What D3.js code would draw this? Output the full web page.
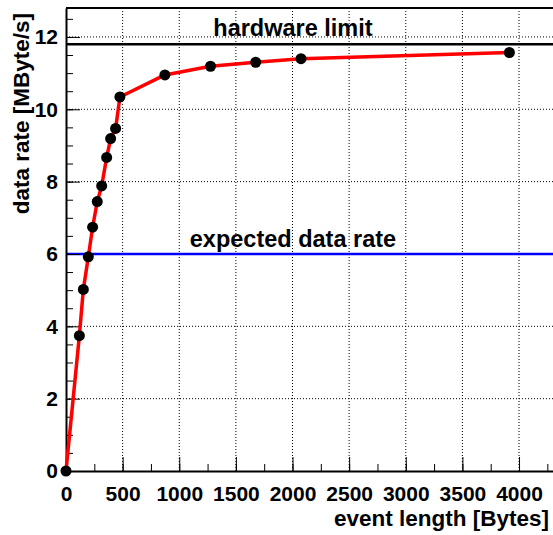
<!DOCTYPE html>
<html>
<head>
<meta charset="utf-8">
<script src="https://cdn.jsdelivr.net/npm/d3@7"></script>
<style>
  body { margin: 0; background: #fff; }
  svg { display: block; }
  text { font-family: "Liberation Sans", Arial, sans-serif; font-weight: bold; fill: #000; }
  .axis path, .axis line { stroke: #000; }
  .axis text { font-size: 21px; }
</style>
</head>
<body>
<svg width="553" height="535"></svg>
<script>
// event length [Bytes] vs data rate [MByte/s]
var eventLength = [0, 118, 153, 197, 235, 276, 315, 359, 394, 438, 476, 873, 1276, 1675, 2075, 3915];
var dataRate = [0, 3.74, 5.02, 5.92, 6.74, 7.45, 7.88, 8.67, 9.19, 9.47, 10.34, 10.95, 11.19, 11.30, 11.40, 11.57];

var xTicks = [0, 500, 1000, 1500, 2000, 2500, 3000, 3500, 4000];
var yTicks = [0, 2, 4, 6, 8, 10, 12];

var hardwareLimit = 11.8;
var expectedRate = 6;

var svg = d3.select("svg"),
  margin = { top: 8, right: 0, bottom: 64, left: 66 },
  width = +svg.attr("width") - margin.left - margin.right,
  height = +svg.attr("height") - margin.top - margin.bottom;

var x = d3.scaleLinear().domain([0, 4300]).range([0, width]),
    y = d3.scaleLinear().domain([0, 12.8]).range([height, 0]);

var g = svg.append("g")
  .attr("transform", "translate(" + margin.left + "," + margin.top + ")");

// GRID
g.append("g").selectAll("line")
  .data(xTicks.slice(1))
  .enter().append("line")
    .attr("x1", function(d) { return x(d); })
    .attr("x2", function(d) { return x(d); })
    .attr("y1", 0)
    .attr("y2", height)
    .attr("stroke", "#000")
    .attr("stroke-width", 1)
    .attr("stroke-dasharray", "1,2");

g.append("g").selectAll("line")
  .data(yTicks.slice(1))
  .enter().append("line")
    .attr("x1", 0)
    .attr("x2", width)
    .attr("y1", function(d) { return y(d); })
    .attr("y2", function(d) { return y(d); })
    .attr("stroke", "#000")
    .attr("stroke-width", 1)
    .attr("stroke-dasharray", "1,2");

// FRAME TOP
g.append("line")
  .attr("x1", 0).attr("x2", width)
  .attr("y1", 0).attr("y2", 0)
  .attr("stroke", "#000").attr("stroke-width", 2);

// REFERENCE LINES
g.append("line")
  .attr("x1", 0).attr("x2", width)
  .attr("y1", y(hardwareLimit)).attr("y2", y(hardwareLimit))
  .attr("stroke", "#000").attr("stroke-width", 2.5);

g.append("line")
  .attr("x1", 0).attr("x2", width)
  .attr("y1", y(expectedRate)).attr("y2", y(expectedRate))
  .attr("stroke", "#0000ff").attr("stroke-width", 2.5);

g.append("text")
  .text("hardware limit")
  .attr("x", x(2004))
  .attr("y", y(hardwareLimit) - 8)
  .attr("text-anchor", "middle")
  .attr("font-size", "23.5px");

g.append("text")
  .text("expected data rate")
  .attr("x", x(2004))
  .attr("y", y(expectedRate) - 7)
  .attr("text-anchor", "middle")
  .attr("font-size", "23.5px");

// AXES
g.append("g")
    .attr("class", "axis")
    .attr("transform", "translate(0," + height + ")")
    .call(d3.axisBottom(x).tickValues(d3.range(0, 4300, 250)).tickSize(-7).tickFormat(""))
    .select(".domain").remove();

g.append("g")
    .attr("class", "axis axis--x")
    .attr("transform", "translate(0," + height + ")")
    .call(d3.axisBottom(x).tickValues(xTicks).tickSize(-14).tickPadding(15).tickSizeOuter(0).tickFormat(d3.format("d")))
    .call(function(a) { a.select(".domain").attr("stroke-width", 2); });

g.append("g")
    .attr("class", "axis")
    .call(d3.axisLeft(y).tickValues(d3.range(0, 12.8, 0.5)).tickSize(-7).tickFormat(""))
    .select(".domain").remove();

g.append("g")
    .attr("class", "axis axis--y")
    .call(d3.axisLeft(y).tickValues(yTicks).tickSize(-14).tickPadding(8).tickSizeOuter(0).tickFormat(d3.format("d")))
    .call(function(a) { a.select(".domain").attr("stroke-width", 2); });

// DATA
var line = d3.line()
  .x(function(d, i) { return x(eventLength[i]); })
  .y(function(d) { return y(d); });

g.append("path")
  .datum(dataRate)
  .attr("d", line)
  .attr("fill", "none")
  .attr("stroke", "#ff0000")
  .attr("stroke-width", 3.5)
  .attr("stroke-linejoin", "round");

g.selectAll(".dot")
  .data(dataRate)
  .enter().append("circle")
    .attr("class", "dot")
    .attr("cx", function(d, i) { return x(eventLength[i]); })
    .attr("cy", function(d) { return y(d); })
    .attr("r", 5.5)
    .attr("fill", "#000");

// AXIS TITLES
svg.append("text")
  .text("event length [Bytes]")
  .attr("x", 549)
  .attr("y", 526)
  .attr("text-anchor", "end")
  .attr("font-size", "22.5px");

svg.append("text")
  .text("data rate [MByte/s]")
  .attr("text-anchor", "end")
  .attr("font-size", "22.5px")
  .attr("transform", "translate(29,13) rotate(-90)");
</script>
</body>
</html>
